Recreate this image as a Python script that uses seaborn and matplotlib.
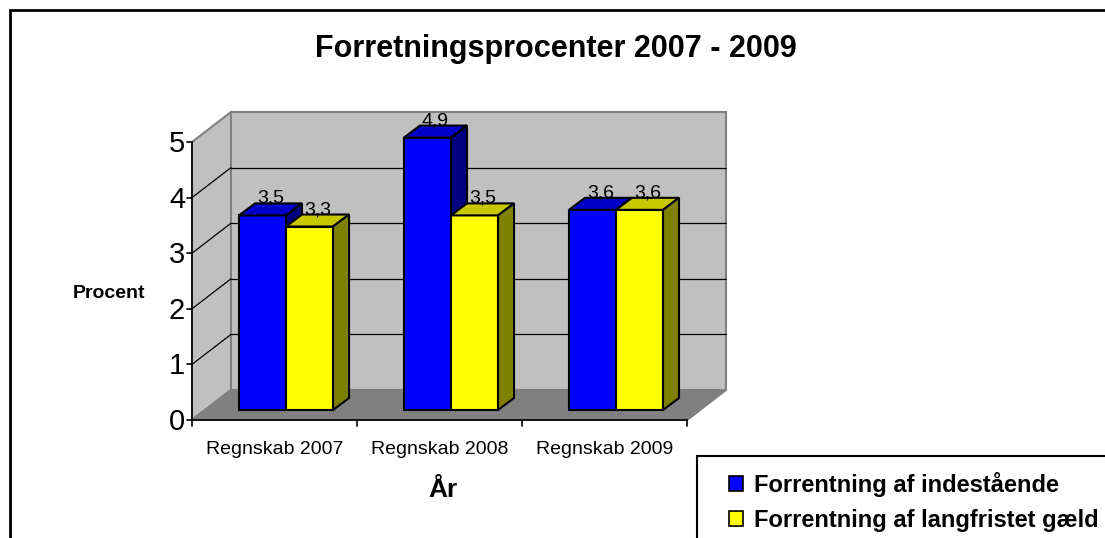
import numpy as np
import pandas as pd
import matplotlib
matplotlib.use("Agg")
import matplotlib.pyplot as plt
from matplotlib.patches import Polygon, Patch, Rectangle
from matplotlib.colors import to_rgb
import seaborn as sns

# -------------------------------------------------------------------------
# data
# -------------------------------------------------------------------------
categories = ["Regnskab 2007", "Regnskab 2008", "Regnskab 2009"]
series_names = ["Forrentning af indestående", "Forrentning af langfristet gæld"]
indestaaende = [3.5, 4.9, 3.6]
langfristet = [3.3, 3.5, 3.6]
y_ticks = [0, 1, 2, 3, 4, 5]

title = "Forretningsprocenter 2007 - 2009"
x_label = "År"
y_label = "Procent"

# colours (front / top / side)
front_colors = ["#0000FF", "#FFFF00"]
top_colors = ["#0000C8", "#C8C800"]
side_colors = ["#000080", "#808000"]

df = pd.DataFrame({
    "kategori": categories * 2,
    "serie": [series_names[0]] * 3 + [series_names[1]] * 3,
    "procent": indestaaende + langfristet,
})

# -------------------------------------------------------------------------
# layout helpers (pixel geometry of the pseudo-3D box)
# -------------------------------------------------------------------------
W, H = 1105, 538
PX_X = 1 / 165.0    # data units per pixel (x)
PX_Y = 1 / 55.6     # data units per pixel (y)

FDX, FDY = -11.5 * PX_X, -10 * PX_Y   # front plane relative to bar plane
DDX, DDY = 39 * PX_X, 30 * PX_Y       # wall depth
BDX, BDY = 16 * PX_X, 12 * PX_Y       # bar depth


def fx(px):
    return px / W


def fy(py):
    return 1 - py / H


sns.set_style("white")
plt.rcParams["font.family"] = ["Liberation Sans", "DejaVu Sans"]
plt.rcParams["text.color"] = "black"

fig = plt.figure(figsize=(W / 100, H / 100), dpi=100)
ax = fig.add_axes([0, 0, 1, 1])

sns.barplot(
    data=df, x="kategori", y="procent", hue="serie",
    palette=front_colors, saturation=1, width=0.57,
    edgecolor="black", linewidth=1.5, legend=False, ax=ax,
)
bars = list(ax.patches)

ax.set_xlim(-286 * PX_X, (W - 286) * PX_X)
ax.set_ylim(-(H - 410) * PX_Y, 410 * PX_Y)
ax.axis("off")

# -------------------------------------------------------------------------
# walls and floor
# -------------------------------------------------------------------------
x0, x1 = -0.5 + FDX, len(categories) - 0.5 + FDX
ymax = y_ticks[-1]


def front(x, v):
    return (x, v + FDY)


def back(x, v):
    return (x + DDX, v + FDY + DDY)


wall_kw = dict(edgecolor="#808080", linewidth=1.5)
ax.add_patch(Polygon([front(x0, 0), front(x0, ymax), back(x0, ymax), back(x0, 0)],
                     facecolor="#C0C0C0", zorder=0, **wall_kw))
ax.add_patch(Polygon([back(x0, 0), back(x1, 0), back(x1, ymax), back(x0, ymax)],
                     facecolor="#C0C0C0", zorder=0, **wall_kw))
ax.add_patch(Polygon([front(x0, 0), front(x1, 0), back(x1, 0), back(x0, 0)],
                     facecolor="#808080", zorder=0.5, **wall_kw))

for v in y_ticks[1:-1]:
    ax.plot(*zip(back(x0, v), back(x1, v)), color="black", lw=0.9, zorder=1)
    ax.plot(*zip(front(x0, v), back(x0, v)), color="black", lw=0.9, zorder=1)

# front axes
ax.plot(*zip(front(x0, 0), front(x0, ymax)), color="black", lw=1.2, zorder=2)
ax.plot(*zip(front(x0, 0), front(x1, 0)), color="black", lw=1.2, zorder=2)
for v in y_ticks:
    ax.plot([x0 - 5 * PX_X, x0], [v + FDY] * 2, color="black", lw=1.2, zorder=2)
    ax.text(x0 - 7 * PX_X, v + FDY - 2 * PX_Y, str(v), ha="right", va="center", fontsize=21)
for i in range(len(categories) + 1):
    xb = i - 0.5 + FDX
    ax.plot([xb, xb], [FDY, FDY - 6 * PX_Y], color="black", lw=1.2, zorder=2)
for i, cat in enumerate(categories):
    ax.text(i + FDX, -40 * PX_Y, cat, ha="center", va="center", fontsize=14)

# -------------------------------------------------------------------------
# 3D faces on the bars + value labels
# -------------------------------------------------------------------------
for p in bars:
    h = 0 if np.allclose(p.get_facecolor()[:3], to_rgb(front_colors[0])) else 1
    z = 3 + 2 * h
    p.set_zorder(z)
    xl, w, top = p.get_x(), p.get_width(), p.get_height()
    xr = xl + w
    ax.add_patch(Polygon([(xl, top), (xr, top), (xr + BDX, top + BDY), (xl + BDX, top + BDY)],
                         facecolor=top_colors[h], edgecolor="black", lw=1.5, zorder=z))
    ax.add_patch(Polygon([(xr, 0), (xr, top), (xr + BDX, top + BDY), (xr + BDX, BDY)],
                         facecolor=side_colors[h], edgecolor="black", lw=1.5, zorder=z))
    ax.text(xl + w / 2 + BDX / 2, top + 17 * PX_Y, f"{top:.1f}".replace(".", ","),
            ha="center", va="center", fontsize=14, zorder=10)

# -------------------------------------------------------------------------
# titles, legend, borders
# -------------------------------------------------------------------------
fig.text(fx(556), fy(49), title, ha="center", va="center", fontsize=22, fontweight="bold")
fig.text(fx(109), fy(293), y_label, ha="center", va="center", fontsize=14, fontweight="bold")
fig.text(fx(443), fy(490), x_label, ha="center", va="center", fontsize=19, fontweight="bold")

handles = [Patch(facecolor=c, edgecolor="black", lw=1.2) for c in front_colors]
fig.legend(handles, series_names, loc="upper left",
           bbox_to_anchor=(fx(729), fy(472)), bbox_transform=fig.transFigure,
           frameon=False, borderpad=0, borderaxespad=0,
           handlelength=0.6, handleheight=0.6, handletextpad=0.45,
           labelspacing=0.5, prop={"weight": "bold", "size": 17})

fig.add_artist(Rectangle((fx(697), fy(640)), fx(600), fy(456) - fy(640),
                         transform=fig.transFigure, fill=False, edgecolor="black", lw=1.5))
fig.add_artist(Rectangle((fx(10), fy(700)), fx(1300), fy(10) - fy(700),
                         transform=fig.transFigure, fill=False, edgecolor="black", lw=2))

plt.savefig("out.png", dpi=100)
plt.close()
